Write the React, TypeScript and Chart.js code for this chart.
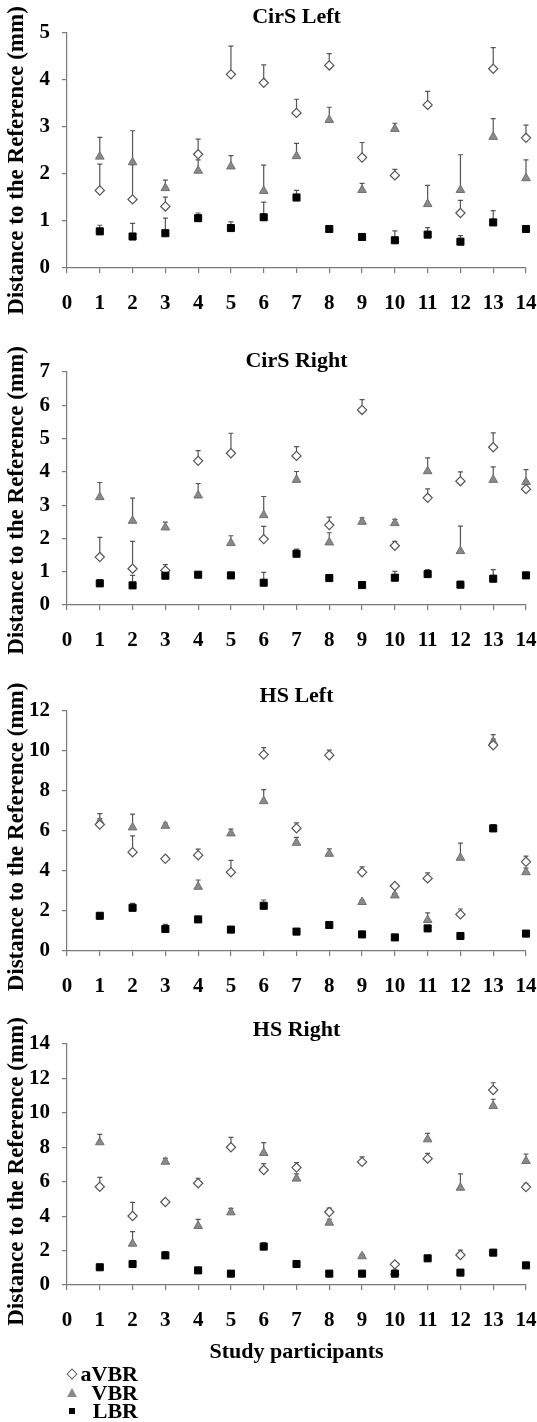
import React, { useEffect, useRef } from "react";
import { Chart, registerables } from "chart.js";

Chart.register(...registerables);

// ---------- data ----------
const participants = [1, 2, 3, 4, 5, 6, 7, 8, 9, 10, 11, 12, 13, 14];
const xTickLabels = ["0", "1", "2", "3", "4", "5", "6", "7", "8", "9", "10", "11", "12", "13", "14"];
const seriesNames = ["aVBR", "VBR", "LBR"];
const panelTitles = ["CirS Left", "CirS Right", "HS Left", "HS Right"];
const yAxisTitle = "Distance to the Reference (mm)";
const xAxisTitle = "Study participants";

// CirS Left
const cirsLeftAVBR = [1.65, 1.46, 1.31, 2.42, 4.12, 3.94, 3.30, 4.31, 2.35, 1.97, 3.47, 1.17, 4.24, 2.77];
const cirsLeftAVBRErr = [0.56, 0.74, 0.20, 0.32, 0.60, 0.38, 0.29, 0.25, 0.32, 0.13, 0.29, 0.27, 0.45, 0.27];
const cirsLeftVBR = [2.37, 2.25, 1.70, 2.07, 2.16, 1.64, 2.38, 3.15, 1.66, 2.96, 1.36, 1.66, 2.79, 1.91];
const cirsLeftVBRErr = [0.41, 0.67, 0.17, 0.23, 0.23, 0.55, 0.27, 0.27, 0.14, 0.12, 0.40, 0.75, 0.39, 0.39];
const cirsLeftLBR = [0.78, 0.67, 0.74, 1.06, 0.85, 1.08, 1.50, 0.83, 0.66, 0.59, 0.71, 0.56, 0.97, 0.83];
const cirsLeftLBRErr = [0.13, 0.28, 0.32, 0.11, 0.13, 0.32, 0.15, 0.05, 0.04, 0.20, 0.15, 0.13, 0.25, 0.05];

// CirS Right
const cirsRightAVBR = [1.44, 1.09, 1.04, 4.33, 4.56, 1.98, 4.48, 2.40, 5.86, 1.78, 3.22, 3.72, 4.74, 3.48];
const cirsRightAVBRErr = [0.59, 0.82, 0.17, 0.31, 0.60, 0.38, 0.28, 0.24, 0.31, 0.13, 0.27, 0.28, 0.43, 0.25];
const cirsRightVBR = [3.24, 2.53, 2.33, 3.29, 1.86, 2.70, 3.76, 1.88, 2.50, 2.46, 4.02, 1.62, 3.76, 3.69];
const cirsRightVBRErr = [0.44, 0.68, 0.16, 0.36, 0.22, 0.56, 0.25, 0.29, 0.12, 0.11, 0.40, 0.75, 0.39, 0.38];
const cirsRightLBR = [0.65, 0.59, 0.88, 0.91, 0.89, 0.67, 1.54, 0.81, 0.60, 0.82, 0.93, 0.61, 0.79, 0.89];
const cirsRightLBRErr = [0.11, 0.30, 0.10, 0.06, 0.06, 0.31, 0.14, 0.05, 0.04, 0.19, 0.13, 0.10, 0.27, 0.05];

// HS Left
const hsLeftAVBR = [6.32, 4.94, 4.61, 4.79, 3.94, 9.82, 6.14, 9.79, 3.94, 3.25, 3.63, 1.83, 10.29, 4.46];
const hsLeftAVBRErr = [0.30, 0.82, 0.14, 0.30, 0.59, 0.35, 0.27, 0.25, 0.27, 0.12, 0.28, 0.27, 0.30, 0.28];
const hsLeftVBR = [6.46, 6.18, 6.26, 3.21, 5.88, 7.49, 5.41, 4.86, 2.45, 2.78, 1.55, 4.66, 10.45, 3.94];
const hsLeftVBRErr = [0.41, 0.66, 0.14, 0.34, 0.21, 0.58, 0.27, 0.25, 0.10, 0.10, 0.36, 0.73, 0.37, 0.20];
const hsLeftLBR = [1.76, 2.16, 1.10, 1.58, 1.07, 2.26, 0.97, 1.30, 0.83, 0.68, 1.13, 0.75, 6.13, 0.87];
const hsLeftLBRErr = [0.05, 0.22, 0.23, 0.05, 0.05, 0.29, 0.05, 0.08, 0.05, 0.05, 0.10, 0.05, 0.19, 0.05];

// HS Right
const hsRightAVBR = [5.71, 4.01, 4.82, 5.91, 8.00, 6.68, 6.82, 4.24, 7.15, 1.20, 7.34, 1.74, 11.33, 5.69];
const hsRightAVBRErr = [0.54, 0.79, 0.10, 0.29, 0.58, 0.37, 0.29, 0.23, 0.29, 0.08, 0.31, 0.29, 0.42, 0.22];
const hsRightVBR = [8.29, 2.40, 7.16, 3.43, 4.22, 7.67, 6.18, 3.62, 1.67, 0.75, 8.46, 5.65, 10.40, 7.20];
const hsRightVBRErr = [0.46, 0.70, 0.20, 0.38, 0.23, 0.60, 0.27, 0.20, 0.10, 0.10, 0.35, 0.80, 0.39, 0.41];
const hsRightLBR = [1.03, 1.22, 1.72, 0.85, 0.66, 2.23, 1.22, 0.66, 0.66, 0.66, 1.55, 0.72, 1.88, 1.14];
const hsRightLBRErr = [0.05, 0.15, 0.22, 0.05, 0.05, 0.23, 0.05, 0.05, 0.05, 0.05, 0.05, 0.05, 0.12, 0.05];

const yMaxes = [5, 7, 12, 14];
const ySteps = [1, 1, 2, 2];

// ---------- styles / layout ----------
const FONT = "'Liberation Serif', 'Times New Roman', serif";
const AXIS_COLOR = "#7a7a7a";
const ERR_COLOR = "#555555";

type Geo = {
  top: number; height: number; titlePadTop: number; titlePadBottom: number;
  xScaleHeight: number; padBottom: number; yTitleShift: number;
};
const geos: Geo[] = [
  { top: 0, height: 330, titlePadTop: 6, titlePadBottom: 5, xScaleHeight: 50, padBottom: 12, yTitleShift: 10 },
  { top: 330, height: 340, titlePadTop: 20, titlePadBottom: 0, xScaleHeight: 50, padBottom: 15, yTitleShift: 12 },
  { top: 670, height: 342, titlePadTop: 15, titlePadBottom: 4, xScaleHeight: 50, padBottom: 11, yTitleShift: 6 },
  { top: 1012, height: 410, titlePadTop: 7, titlePadBottom: 3, xScaleHeight: 78, padBottom: 59, yTitleShift: 7 },
];

const panelSeries = [
  [[cirsLeftAVBR, cirsLeftAVBRErr], [cirsLeftVBR, cirsLeftVBRErr], [cirsLeftLBR, cirsLeftLBRErr]],
  [[cirsRightAVBR, cirsRightAVBRErr], [cirsRightVBR, cirsRightVBRErr], [cirsRightLBR, cirsRightLBRErr]],
  [[hsLeftAVBR, hsLeftAVBRErr], [hsLeftVBR, hsLeftVBRErr], [hsLeftLBR, hsLeftLBRErr]],
  [[hsRightAVBR, hsRightAVBRErr], [hsRightVBR, hsRightVBRErr], [hsRightLBR, hsRightLBRErr]],
];

const seriesStyles = [
  { pointStyle: "rectRot", radius: 4.6, backgroundColor: "#ffffff", borderColor: "#555555", borderWidth: 1.2, order: 1 },
  { pointStyle: "triangle", radius: 5, backgroundColor: "#8a8a8a", borderColor: "#707070", borderWidth: 1, order: 2 },
  { pointStyle: "rect", radius: 5, backgroundColor: "#000000", borderColor: "#000000", borderWidth: 1, order: 0 },
];

const errorBarPlugin = {
  id: "errorBars",
  beforeDatasetsDraw(chart: any) {
    const { ctx } = chart;
    const xs = chart.scales.x;
    const ys = chart.scales.y;
    ctx.save();
    ctx.strokeStyle = ERR_COLOR;
    ctx.lineWidth = 1.2;
    chart.data.datasets.forEach((ds: any, di: number) => {
      const meta = chart.getDatasetMeta(di);
      if (meta.hidden) return;
      const errs: number[] = ds.errorBars || [];
      ds.data.forEach((pt: any, i: number) => {
        const e = errs[i];
        if (!e) return;
        const px = xs.getPixelForValue(pt.x);
        const py0 = ys.getPixelForValue(pt.y);
        const py1 = ys.getPixelForValue(pt.y + e);
        ctx.beginPath();
        ctx.moveTo(px, py0);
        ctx.lineTo(px, py1);
        ctx.moveTo(px - 2.5, py1);
        ctx.lineTo(px + 2.5, py1);
        ctx.stroke();
      });
    });
    ctx.restore();
  },
};

function Panel({ index }: { index: number }) {
  const ref = useRef<HTMLCanvasElement>(null);
  const geo = geos[index];
  useEffect(() => {
    if (!ref.current) return;
    const series = panelSeries[index];
    const datasets = series.map(([vals, errs], si) => ({
      label: seriesNames[si],
      data: participants.map((p, i) => ({ x: p, y: vals[i] })),
      errorBars: errs,
      showLine: false,
      clip: false,
      pointStyle: seriesStyles[si].pointStyle,
      pointRadius: seriesStyles[si].radius,
      pointHoverRadius: seriesStyles[si].radius,
      pointBackgroundColor: seriesStyles[si].backgroundColor,
      pointBorderColor: seriesStyles[si].borderColor,
      pointBorderWidth: seriesStyles[si].borderWidth,
      backgroundColor: seriesStyles[si].backgroundColor,
      borderColor: seriesStyles[si].borderColor,
      order: seriesStyles[si].order,
    }));
    const isLast = index === 3;
    const chart = new Chart(ref.current, {
      type: "scatter",
      data: { datasets } as any,
      plugins: [errorBarPlugin],
      options: {
        responsive: false,
        animation: false,
        layout: { padding: { left: 0, right: 11, top: 0, bottom: geo.padBottom } },
        plugins: {
          legend: { display: false },
          tooltip: { enabled: false },
          title: {
            display: true,
            fullSize: false,
            text: panelTitles[index],
            color: "#000",
            font: { family: FONT, size: 22, weight: "bold", lineHeight: 1 },
            padding: { top: geo.titlePadTop, bottom: geo.titlePadBottom },
          },
        },
        scales: {
          x: {
            type: "linear",
            min: 0,
            max: 14,
            afterBuildTicks: (scale: any) => {
              scale.ticks = xTickLabels.map((t) => ({ value: Number(t) }));
            },
            afterFit: (scale: any) => {
              scale.height = geo.xScaleHeight;
              // let the last label run to the page edge, as in the reference
              scale.paddingRight = 0;
            },
            ticks: {
              autoSkip: false,
              maxRotation: 0,
              padding: 18,
              color: "#000",
              font: { family: FONT, size: 21, weight: "bold" },
              callback: (v: any) => String(v),
            },
            grid: { drawOnChartArea: false, drawTicks: true, tickLength: 5, color: AXIS_COLOR, lineWidth: 1.2 },
            border: { display: true, color: AXIS_COLOR, width: 1.2 },
            title: {
              display: isLast,
              text: xAxisTitle,
              color: "#000",
              font: { family: FONT, size: 22, weight: "bold", lineHeight: 1 },
              padding: { top: 0, bottom: 0 },
            },
          },
          y: {
            type: "linear",
            min: 0,
            max: yMaxes[index],
            afterFit: (scale: any) => {
              scale.width = 67;
            },
            afterUpdate: (scale: any) => {
              // the reference's axis title sits a little below the plot's centre
              if (scale._shiftedTitle) return;
              const drawTitle = scale.drawTitle.bind(scale);
              scale.drawTitle = () => {
                scale.ctx.save();
                scale.ctx.translate(0, geo.yTitleShift);
                drawTitle();
                scale.ctx.restore();
              };
              scale._shiftedTitle = true;
            },
            ticks: {
              stepSize: ySteps[index],
              padding: 12,
              color: "#000",
              font: { family: FONT, size: 21, weight: "bold" },
            },
            grid: { drawOnChartArea: false, drawTicks: true, tickLength: 5, color: AXIS_COLOR, lineWidth: 1.2 },
            border: { display: true, color: AXIS_COLOR, width: 1.2 },
            title: {
              display: true,
              text: yAxisTitle,
              color: "#000",
              font: { family: FONT, size: 23, weight: "bold", lineHeight: 1 },
              padding: { top: 6, bottom: 0 },
            },
          },
        },
      } as any,
    });
    return () => chart.destroy();
  }, [index]);
  return (
    <canvas
      ref={ref}
      width={537}
      height={geo.height}
      style={{ position: "absolute", left: 0, top: geo.top, width: 537, height: geo.height, display: "block" }}
    />
  );
}

function LegendRow({ symbol, text }: { symbol: React.ReactNode; text: string }) {
  return (
    <div style={{ display: "flex", alignItems: "center", height: 18.5 }}>
      <div style={{ width: 16, display: "flex", justifyContent: "center", alignItems: "center" }}>{symbol}</div>
      <div style={{ width: 58, textAlign: "right" }}>{text}</div>
    </div>
  );
}

export default function App() {
  return (
    <div style={{ position: "absolute", left: 0, top: 0, width: 537, height: 1422, background: "#fff", overflow: "hidden" }}>
      {[0, 1, 2, 3].map((i) => (
        <Panel key={i} index={i} />
      ))}
      <div
        style={{
          position: "absolute",
          left: 64,
          top: 1365,
          fontFamily: FONT,
          fontWeight: "bold",
          fontSize: 22,
          lineHeight: "18.5px",
          color: "#000",
        }}
      >
        <LegendRow
          text={seriesNames[0]}
          symbol={<div style={{ width: 6, height: 6, border: "1.2px solid #666", background: "#fff", transform: "rotate(45deg)" }} />}
        />
        <LegendRow
          text={seriesNames[1]}
          symbol={<div style={{ width: 0, height: 0, borderLeft: "5px solid transparent", borderRight: "5px solid transparent", borderBottom: "9px solid #8a8a8a" }} />}
        />
        <LegendRow text={seriesNames[2]} symbol={<div style={{ width: 6, height: 6, background: "#000" }} />} />
      </div>
    </div>
  );
}
